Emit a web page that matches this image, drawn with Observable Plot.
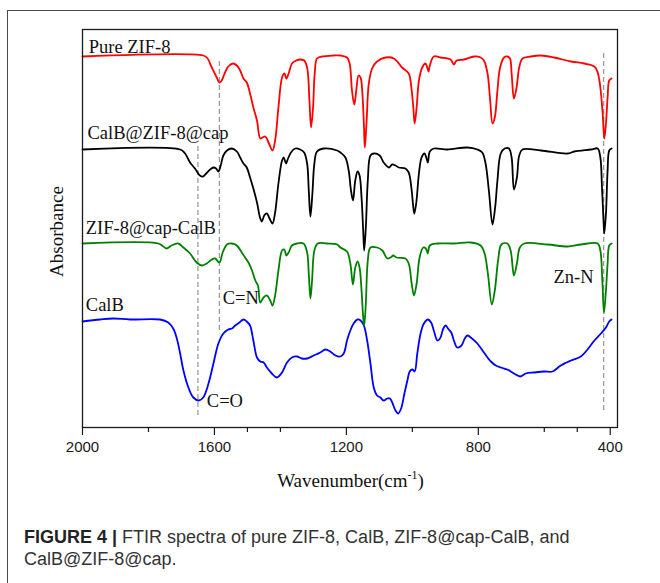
<!DOCTYPE html>
<html>
<head>
<meta charset="utf-8">
<script src="https://cdn.jsdelivr.net/npm/d3@7"></script>
<script src="https://cdn.jsdelivr.net/npm/@observablehq/plot@0.6"></script>
<style>
  html, body { margin: 0; padding: 0; background: #fff; overflow: hidden; }
  #fig { position: relative; width: 660px; height: 583px; overflow: hidden; background: #fff; }
  #border { position: absolute; left: 7px; top: 10px; width: 900px; height: 900px;
            border-left: 1px solid #4a4a4a; border-top: 1px solid #4a4a4a; }
  #chart { position: absolute; left: 0; top: 0; }
  #caption { position: absolute; left: 24px; top: 526px; font-family: "Liberation Sans", Arial, sans-serif;
             font-size: 18px; line-height: 22px; color: #333; white-space: nowrap; }
  #caption b { color: #222; }
</style>
</head>
<body>
<div id="fig">
  <div id="border"></div>
  <div id="chart"></div>
  <div id="caption"><b>FIGURE 4 |</b> FTIR spectra of pure ZIF-8, CalB, ZIF-8@cap-CalB, and<br>CalB@ZIF-8@cap.</div>
</div>
<script>
// ---- Data: [wavenumber (cm-1), absorbance (a.u., offset stacked)] ----
const pureZIF8 = [[2000,3.71],[1634,3.72],[1623,3.70],[1608,3.60],[1593,3.50],[1585,3.45],[1578,3.47],[1568,3.55],[1558,3.61],[1544,3.64],[1532,3.62],[1522,3.57],[1512,3.49],[1502,3.45],[1492,3.34],[1482,3.20],[1471,3.07],[1461,2.89],[1454,2.90],[1446,2.91],[1436,2.85],[1424,2.77],[1416,2.87],[1406,3.20],[1395,3.50],[1388,3.54],[1382,3.49],[1375,3.54],[1365,3.64],[1352,3.67],[1340,3.68],[1328,3.67],[1319,3.60],[1312,3.27],[1307,3.00],[1301,3.20],[1296,3.54],[1289,3.69],[1274,3.71],[1238,3.72],[1218,3.72],[1198,3.70],[1190,3.64],[1183,3.37],[1176,3.23],[1170,3.37],[1163,3.52],[1157,3.50],[1152,3.37],[1147,3.04],[1144,2.80],[1139,3.04],[1132,3.44],[1122,3.59],[1107,3.66],[1081,3.70],[1056,3.69],[1031,3.60],[1011,3.54],[1003,3.40],[997,3.20],[993,3.04],[987,3.20],[980,3.47],[970,3.60],[960,3.64],[955,3.60],[951,3.56],[947,3.62],[935,3.71],[914,3.70],[884,3.68],[874,3.63],[866,3.67],[843,3.68],[813,3.71],[793,3.70],[783,3.67],[772,3.54],[764,3.27],[757,3.04],[750,3.10],[742,3.37],[734,3.60],[722,3.70],[712,3.71],[704,3.69],[699,3.54],[692,3.29],[684,3.40],[676,3.60],[666,3.69],[641,3.71],[610,3.72],[570,3.70],[519,3.66],[479,3.64],[448,3.61],[438,3.55],[430,3.40],[423,3.14],[418,2.89],[413,3.04],[408,3.30],[403,3.47],[396,3.49]];

const calbZIF8cap = [[2000,2.78],[1704,2.78],[1689,2.74],[1674,2.65],[1659,2.59],[1644,2.52],[1635,2.51],[1625,2.54],[1613,2.58],[1603,2.60],[1595,2.59],[1588,2.56],[1581,2.62],[1573,2.72],[1562,2.77],[1547,2.79],[1532,2.76],[1522,2.70],[1512,2.64],[1502,2.60],[1492,2.50],[1482,2.39],[1471,2.25],[1461,2.09],[1456,2.06],[1449,2.12],[1441,2.14],[1433,2.09],[1424,2.04],[1416,2.15],[1406,2.44],[1395,2.67],[1390,2.70],[1383,2.64],[1378,2.68],[1368,2.75],[1355,2.79],[1340,2.78],[1328,2.75],[1319,2.64],[1314,2.37],[1309,2.11],[1303,2.34],[1297,2.64],[1289,2.76],[1269,2.79],[1228,2.77],[1218,2.75],[1203,2.70],[1193,2.57],[1186,2.37],[1180,2.27],[1173,2.47],[1166,2.56],[1160,2.52],[1154,2.30],[1149,1.97],[1146,1.77],[1141,2.00],[1135,2.47],[1127,2.72],[1117,2.74],[1099,2.72],[1087,2.65],[1071,2.60],[1061,2.63],[1051,2.62],[1041,2.60],[1021,2.59],[1011,2.55],[1003,2.40],[997,2.20],[994,2.14],[988,2.25],[980,2.54],[972,2.70],[963,2.74],[957,2.69],[953,2.65],[947,2.76],[935,2.79],[894,2.78],[833,2.80],[803,2.78],[788,2.75],[778,2.64],[768,2.37],[757,2.03],[749,2.20],[742,2.47],[732,2.74],[720,2.79],[707,2.79],[699,2.70],[692,2.38],[683,2.50],[676,2.72],[666,2.78],[610,2.77],[529,2.74],[509,2.76],[458,2.78],[438,2.79],[430,2.70],[425,2.40],[420,2.04],[418,1.94],[413,2.14],[408,2.57],[403,2.77],[396,2.79]];

const zif8capCalB = [[2000,1.84],[1770,1.84],[1755,1.81],[1745,1.79],[1730,1.82],[1710,1.84],[1694,1.80],[1674,1.74],[1654,1.65],[1638,1.62],[1623,1.64],[1608,1.68],[1598,1.69],[1585,1.65],[1575,1.75],[1562,1.83],[1547,1.84],[1532,1.82],[1517,1.75],[1507,1.70],[1497,1.65],[1486,1.57],[1476,1.47],[1468,1.42],[1461,1.25],[1451,1.30],[1441,1.32],[1431,1.27],[1424,1.22],[1416,1.32],[1406,1.57],[1395,1.77],[1388,1.78],[1382,1.72],[1375,1.75],[1365,1.82],[1350,1.84],[1330,1.84],[1319,1.75],[1314,1.54],[1309,1.29],[1304,1.47],[1297,1.77],[1287,1.84],[1259,1.84],[1228,1.83],[1218,1.80],[1198,1.76],[1188,1.64],[1180,1.43],[1173,1.60],[1166,1.66],[1160,1.60],[1154,1.37],[1149,1.10],[1146,1.02],[1141,1.24],[1135,1.67],[1127,1.80],[1107,1.80],[1091,1.77],[1076,1.69],[1066,1.70],[1058,1.72],[1048,1.70],[1021,1.69],[1011,1.64],[1002,1.44],[995,1.32],[987,1.44],[978,1.70],[967,1.80],[959,1.79],[953,1.74],[947,1.82],[924,1.84],[874,1.84],[823,1.85],[793,1.82],[781,1.74],[771,1.54],[759,1.23],[750,1.37],[740,1.67],[730,1.83],[712,1.84],[702,1.77],[692,1.52],[683,1.64],[674,1.80],[661,1.84],[590,1.83],[529,1.81],[489,1.83],[438,1.84],[430,1.77],[424,1.47],[419,1.15],[413,1.37],[408,1.64],[403,1.82],[396,1.84]];

const calB = [[2000,1.06],[1947,1.08],[1907,1.09],[1856,1.08],[1765,1.08],[1740,1.05],[1725,0.99],[1714,0.89],[1704,0.74],[1694,0.57],[1679,0.40],[1664,0.30],[1647,0.27],[1634,0.30],[1618,0.44],[1603,0.64],[1588,0.84],[1573,0.94],[1558,0.98],[1547,0.99],[1537,1.02],[1524,1.05],[1512,1.08],[1502,1.06],[1492,1.02],[1482,0.87],[1471,0.70],[1461,0.66],[1451,0.65],[1441,0.60],[1426,0.54],[1411,0.50],[1395,0.55],[1380,0.65],[1365,0.70],[1350,0.71],[1335,0.69],[1319,0.69],[1299,0.72],[1279,0.75],[1264,0.78],[1249,0.76],[1233,0.72],[1218,0.71],[1208,0.74],[1198,0.87],[1188,0.97],[1178,1.04],[1166,1.08],[1157,1.07],[1147,1.02],[1137,0.87],[1127,0.64],[1117,0.40],[1107,0.32],[1097,0.30],[1087,0.27],[1076,0.29],[1068,0.29],[1061,0.25],[1051,0.17],[1043,0.14],[1034,0.19],[1024,0.34],[1015,0.47],[1008,0.56],[1000,0.58],[993,0.56],[985,0.74],[975,0.94],[965,1.04],[953,1.08],[943,1.05],[935,0.97],[924,0.87],[916,0.89],[906,0.99],[899,1.02],[892,0.99],[882,0.95],[874,0.87],[864,0.80],[851,0.82],[841,0.89],[833,0.92],[823,0.90],[803,0.84],[783,0.75],[762,0.66],[747,0.62],[732,0.60],[712,0.58],[692,0.54],[673,0.51],[656,0.54],[631,0.55],[600,0.56],[575,0.56],[550,0.62],[519,0.67],[489,0.71],[469,0.78],[448,0.87],[428,0.94],[413,1.00],[403,1.06],[396,1.08]];

// Dashed reference lines (band positions)
const bandLines = [
  {w: 1650, y1: 0.12, y2: 2.82},
  {w: 1585, y1: 0.97, y2: 3.69},
  {w: 420,  y1: 0.17, y2: 3.74}
];

// Annotations
const labels = [
  {w: 1981, a: 3.75, text: "Pure ZIF-8"},
  {w: 1985, a: 2.89, text: "CalB@ZIF-8@cap"},
  {w: 1990, a: 1.94, text: "ZIF-8@cap-CalB"},
  {w: 1990, a: 1.17, text: "CalB"},
  {w: 1575, a: 1.24, text: "C=N"},
  {w: 1623, a: 0.21, text: "C=O"},
  {w: 572,  a: 1.45, text: "Zn-N"}
];

const majorTicks = [2000, 1600, 1200, 800, 400];
const minorTicks = [1800, 1500, 1400, 1000, 600, 500];

const serif = "Liberation Serif, Times New Roman, serif";
const lineOpts = (color) => ({x: d => d[0], y: d => d[1], stroke: color, strokeWidth: 1.8, curve: "catmull-rom"});

const plot = Plot.plot({
  width: 660,
  height: 500,
  marginLeft: 82,
  marginRight: 43,
  marginTop: 29,
  marginBottom: 73,
  x: {domain: [2000, 378], label: null},
  y: {domain: [0, 3.98], axis: null},
  style: {background: "transparent", fontFamily: "Liberation Sans, Arial, sans-serif", overflow: "visible", color: "#1a1a1a"},
  marks: [
    Plot.ruleX(bandLines, {x: "w", y1: "y1", y2: "y2", stroke: "#9c9c9c", strokeWidth: 1.3, strokeDasharray: "5,3"}),
    Plot.line(calB, lineOpts("#0000ff")),
    Plot.line(zif8capCalB, lineOpts("#008000")),
    Plot.line(calbZIF8cap, lineOpts("#000000")),
    Plot.line(pureZIF8, lineOpts("#ff0000")),
    Plot.frame({stroke: "#1a1a1a", strokeWidth: 1.3}),
    Plot.axisX({ticks: majorTicks, tickSize: 8, tickPadding: 6, tickFormat: d => String(d), fontSize: 15, label: null, strokeWidth: 1.2}),
    Plot.axisX({ticks: minorTicks, tickSize: 5, tickFormat: () => "", label: null, strokeWidth: 1.2}),
    Plot.text(labels, {x: "w", y: "a", text: "text", textAnchor: "start", lineAnchor: "bottom",
      fontFamily: serif, fontSize: 18.5, fill: "#111"}),
    Plot.text(["Absorbance"], {text: d => d, frameAnchor: "left", dx: -20, dy: 3, rotate: -90,
      textAnchor: "middle", lineAnchor: "bottom", fontFamily: serif, fontSize: 19, fill: "#111"})
  ]
});

// X axis title with superscript
const svg = d3.select(plot);
const xt = svg.append("text")
  .attr("x", (82 + 660 - 43) / 2 + 1)
  .attr("y", 486.5)
  .attr("text-anchor", "middle")
  .attr("font-family", serif)
  .attr("font-size", 19)
  .attr("fill", "#111");
xt.append("tspan").text("Wavenumber(cm");
xt.append("tspan").attr("font-size", 12).attr("dy", -8).text("-1");
xt.append("tspan").attr("dy", 8).text(")");

document.getElementById("chart").appendChild(plot);
</script>
</body>
</html>
